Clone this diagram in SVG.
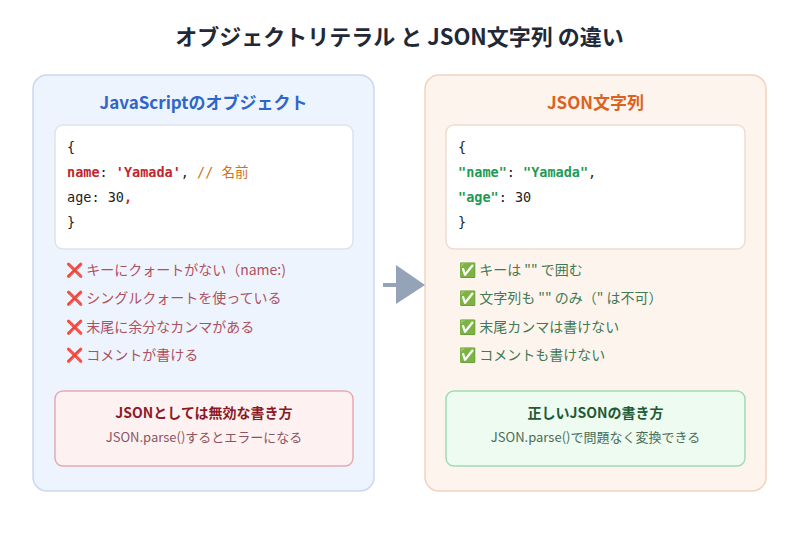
<svg xmlns="http://www.w3.org/2000/svg" width="799" height="533" viewBox="0 0 799 533">
<style>
text{font-family:"Noto Sans CJK JP","Noto Sans",sans-serif}
.t{font-size:22px;font-weight:700;fill:#1f2937}
.h{font-size:17px;font-weight:700}
.code{font-family:"DejaVu Sans Mono","Noto Sans CJK JP",monospace;font-size:13.5px;fill:#222}
.b{font-size:14px}
.bl{fill:#b0505e}.gr{fill:#3f7a55}
.k{font-weight:700}
.cb{fill:#fff;stroke:#dbe3ee;stroke-width:1.5}
</style>
<rect width="799" height="533" fill="#fff"/>
<text class="t" x="399.5" y="45" text-anchor="middle">オブジェクトリテラル と JSON文字列 の違い</text>
<g id="left">
<rect x="33" y="75" width="341" height="416" rx="14" fill="#eef4fe" stroke="#c9d8ef" stroke-width="1.5"/>
<text class="h" x="203.5" y="109" text-anchor="middle" fill="#2f66c8">JavaScriptのオブジェクト</text>
<rect class="cb" x="55" y="125" width="298" height="124" rx="8"/>
<text class="code" x="67" y="152">{</text>
<text class="code" x="67" y="177"><tspan fill="#c0262d" class="k">name</tspan>: <tspan fill="#c0262d" class="k">'Yamada'</tspan>, <tspan fill="#d07020">// 名前</tspan></text>
<text class="code" x="67" y="202">age: 30<tspan fill="#c0262d" class="k">,</tspan></text>
<text class="code" x="67" y="227">}</text>
<g class="b">
<text x="66" y="275"><tspan fill="#e0436a" font-weight="700">❌</tspan><tspan class="bl"> キーにクォートがない（name:)</tspan></text>
<text x="66" y="303"><tspan fill="#e0436a" font-weight="700">❌</tspan><tspan class="bl"> シングルクォートを使っている</tspan></text>
<text x="66" y="332"><tspan fill="#e0436a" font-weight="700">❌</tspan><tspan class="bl"> 末尾に余分なカンマがある</tspan></text>
<text x="66" y="360"><tspan fill="#e0436a" font-weight="700">❌</tspan><tspan class="bl"> コメントが書ける</tspan></text>
</g>
</g>
<g id="left-note">
<rect x="55" y="391" width="298" height="75" rx="8" fill="#fef1f2" stroke="#e8a9b2" stroke-width="1.5"/>
<text x="204" y="418" text-anchor="middle" font-size="14" font-weight="700" fill="#8b1a26">JSONとしては無効な書き方</text>
<text x="204" y="442" text-anchor="middle" font-size="13" fill="#8a5560">JSON.parse()するとエラーになる</text>
</g>
<g id="right">
<rect x="425" y="75" width="341" height="416" rx="14" fill="#fef4ee" stroke="#f2d2bf" stroke-width="1.5"/>
<text class="h" x="595.5" y="109" text-anchor="middle" fill="#dc6220">JSON文字列</text>
<rect class="cb" x="446" y="125" width="299" height="124" rx="8" style="stroke:#f0dccf"/>
<text class="code" x="458" y="152">{</text>
<text class="code" x="458" y="177"><tspan fill="#1f9a55" class="k">"name"</tspan>: <tspan fill="#1f9a55" class="k">"Yamada"</tspan>,</text>
<text class="code" x="458" y="202"><tspan fill="#1f9a55" class="k">"age"</tspan>: 30</text>
<text class="code" x="458" y="227">}</text>
<g class="b">
<text x="459" y="275"><tspan fill="#3fb56e">✅</tspan><tspan class="gr"> キーは "" で囲む</tspan></text>
<text x="459" y="303"><tspan fill="#3fb56e">✅</tspan><tspan class="gr"> 文字列も "" のみ（" は不可）</tspan></text>
<text x="459" y="332"><tspan fill="#3fb56e">✅</tspan><tspan class="gr"> 末尾カンマは書けない</tspan></text>
<text x="459" y="360"><tspan fill="#3fb56e">✅</tspan><tspan class="gr"> コメントも書けない</tspan></text>
</g>
</g>
<g id="right-note">
<rect x="446" y="391" width="299" height="75" rx="8" fill="#edfbf1" stroke="#9fdcb3" stroke-width="1.5"/>
<text x="595.5" y="418" text-anchor="middle" font-size="14" font-weight="700" fill="#1e5a35">正しいJSONの書き方</text>
<text x="595.5" y="442" text-anchor="middle" font-size="13" fill="#4b6b57">JSON.parse()で問題なく変換できる</text>
</g>
<g id="connectors">
<line x1="383" y1="285" x2="400" y2="285" stroke="#94a3b8" stroke-width="4"/>
<polygon points="396,265 425,285 396,304" fill="#94a3b8"/>
</g>
</svg>
